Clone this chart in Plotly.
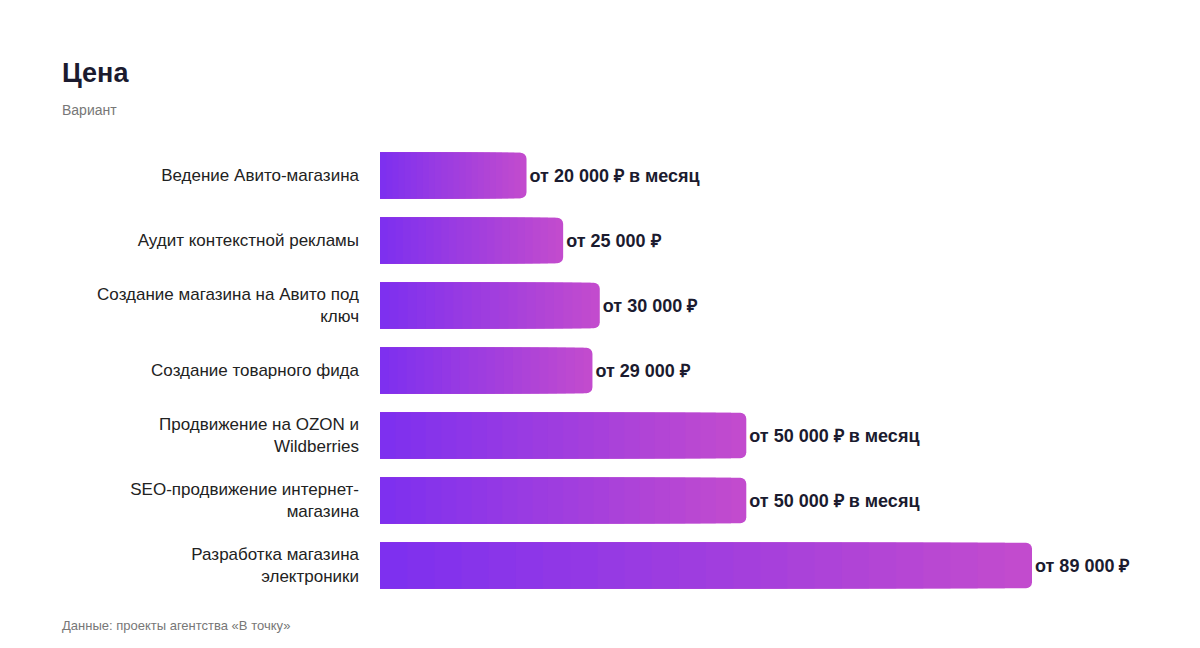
import plotly.graph_objects as go

categories = [
    "Ведение Авито-магазина",
    "Аудит контекстной рекламы",
    "Создание магазина на Авито под<br>ключ",
    "Создание товарного фида",
    "Продвижение на OZON и<br>Wildberries",
    "SEO-продвижение интернет-<br>магазина",
    "Разработка магазина<br>электроники",
]
prices = [20000, 25000, 30000, 29000, 50000, 50000, 89000]
labels = [
    "от 20 000 ₽ в месяц",
    "от 25 000 ₽",
    "от 30 000 ₽",
    "от 29 000 ₽",
    "от 50 000 ₽ в месяц",
    "от 50 000 ₽ в месяц",
    "от 89 000 ₽",
]

start_rgb = (123, 47, 240)
end_rgb = (194, 75, 206)
steps = 24

fig = go.Figure()
# gradient imitation: overlaid bars of shrinking length, colour fading toward the start
for i in range(steps):
    frac = 1 - i / steps
    t = frac
    col = tuple(round(s + (e - s) * t) for s, e in zip(start_rgb, end_rgb))
    fig.add_trace(go.Bar(
        y=categories,
        x=[p * frac for p in prices],
        orientation="h",
        width=0.7,
        marker=dict(color=f"rgb{col}", cornerradius=6, line=dict(width=0)),
        text=labels if i == 0 else None,
        textposition="outside" if i == 0 else "none",
        textfont=dict(size=18, color="#1b1b2f", family="Liberation Sans", weight="bold"),
        cliponaxis=False,
        hoverinfo="skip",
        showlegend=False,
    ))

fig.update_layout(
    width=1200,
    height=648,
    barmode="overlay",
    plot_bgcolor="white",
    paper_bgcolor="white",
    margin=dict(l=372, r=50, t=135, b=58),
    font=dict(family="Liberation Sans", color="#222"),
    xaxis=dict(visible=False, range=[0, 106200]),
    yaxis=dict(autorange="reversed", showgrid=False, ticks="", ticklabelstandoff=20,
               tickfont=dict(size=17, color="#222")),
    annotations=[
        dict(text="<b>Цена</b>", x=52, y=65, xref="paper", yref="paper", showarrow=False),
    ],
)
fig.layout.annotations = []
for text, y, size, color in [
    ("<b>Цена</b>", 65, 27, "#1b1b2f"),
    ("Вариант", 102, 14, "#777"),
    ("Данные: проекты агентства «В точку»", 617, 13, "#777"),
]:
    fig.add_annotation(text=text, x=52 / 1200 * 1, y=1 - y / 648, xref="paper", yref="paper",
                       showarrow=False, xanchor="left", yanchor="middle",
                       font=dict(size=size, color=color))
# convert paper coords for the full canvas
for a in fig.layout.annotations:
    px_x = a.x * 1200
    px_y = (1 - a.y) * 648
    a.x = (px_x - 372) / (1200 - 372 - 50)
    a.y = 1 - (px_y - 135) / (648 - 135 - 58)

fig.write_html("out.html")
